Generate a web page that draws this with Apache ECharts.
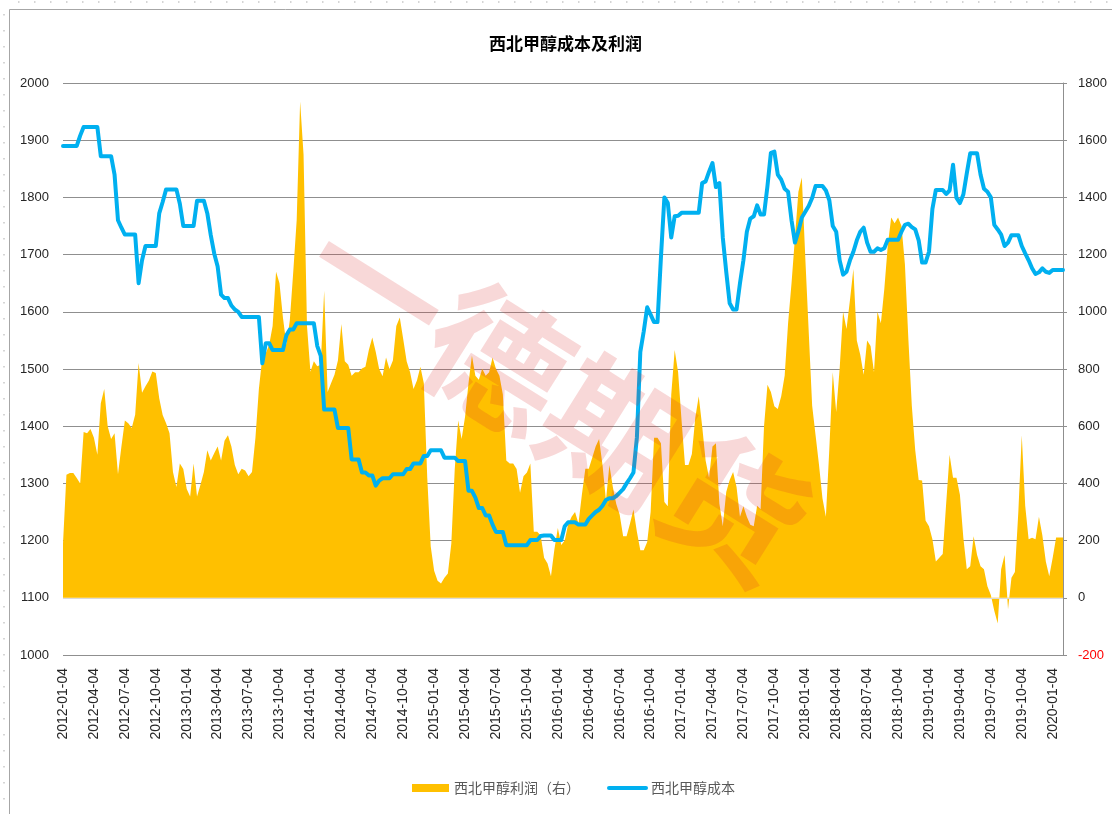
<!DOCTYPE html>
<html>
<head>
<meta charset="utf-8">
<script src="https://cdn.jsdelivr.net/npm/echarts@6/dist/echarts.min.js"></script>
<style>
  html, body { margin: 0; padding: 0; background: #fff; }
  #chart { width: 1112px; height: 814px; }
</style>
</head>
<body>
<div id="chart"></div>
<script>
// points on the 4th, 14th and 24th of every month, 2012-01-04 .. 2020-02-04
const dates = [];
for (let y = 2012; y <= 2020; y++) {
  for (let m = 1; m <= 12; m++) {
    for (const d of [4, 14, 24]) {
      if (y === 2020 && (m > 2 || (m === 2 && d > 4))) continue;
      dates.push(y + '-' + String(m).padStart(2, '0') + '-' + String(d).padStart(2, '0'));
    }
  }
}

// 西北甲醇成本 (left axis), one row per quarter
const costValues = [
  1890,1890,1890,1890,1890,1908,1923,1923,1923,
  1923,1923,1872,1872,1872,1872,1840,1760,1747,
  1735,1735,1735,1735,1650,1690,1715,1715,1715,
  1715,1772,1792,1814,1814,1814,1814,1789,1750,
  1750,1750,1750,1794,1794,1794,1772,1734,1702,
  1679,1630,1624,1624,1611,1604,1600,1591,1591,
  1591,1591,1591,1591,1510,1545,1545,1533,1533,
  1533,1533,1559,1569,1569,1580,1580,1580,1580,
  1580,1580,1540,1523,1429,1429,1429,1429,1397,
  1397,1397,1397,1342,1342,1342,1319,1319,1314,
  1314,1296,1305,1309,1309,1309,1316,1316,1316,
  1316,1325,1325,1335,1335,1335,1348,1348,1358,
  1358,1358,1358,1345,1345,1345,1345,1339,1339,
  1339,1287,1287,1275,1257,1257,1244,1244,1228,
  1215,1215,1215,1192,1192,1192,1192,1192,1192,
  1192,1201,1201,1201,1208,1209,1209,1209,1201,
  1201,1201,1225,1232,1232,1232,1228,1228,1228,
  1238,1244,1250,1254,1261,1271,1274,1274,1278,
  1284,1290,1300,1309,1319,1380,1530,1566,1608,
  1595,1582,1582,1695,1800,1790,1730,1767,1768,
  1773,1773,1773,1773,1773,1773,1825,1828,1845,
  1860,1818,1825,1730,1670,1615,1604,1604,1650,
  1690,1740,1763,1767,1786,1770,1770,1820,1878,
  1880,1840,1831,1815,1810,1760,1721,1741,1765,
  1775,1785,1799,1820,1820,1820,1812,1795,1750,
  1740,1690,1665,1670,1690,1705,1725,1740,1747,
  1721,1705,1705,1711,1708,1711,1726,1726,1726,
  1726,1740,1752,1754,1748,1744,1725,1686,1686,
  1705,1780,1813,1813,1813,1806,1812,1857,1799,
  1790,1805,1842,1877,1877,1877,1840,1815,1810,
  1800,1752,1744,1735,1715,1721,1734,1734,1734,
  1715,1702,1690,1676,1666,1669,1676,1670,1668,
  1673,1673,1673,1673
];

// 西北甲醇利润 (right axis), one row per quarter
const profitValues = [
  190,430,436,436,419,400,580,575,590,
  560,500,680,730,600,555,575,432,529,
  620,610,594,640,821,717,740,760,791,
  786,698,639,610,575,440,387,470,450,
  380,354,470,354,395,440,516,480,505,
  529,480,549,568,529,464,432,451,445,
  425,440,560,730,840,855,885,950,1140,
  1100,980,885,970,1139,1320,1735,1550,950,
  790,827,810,815,1074,720,750,780,830,
  957,827,815,776,789,789,802,808,866,
  910,860,800,775,840,800,830,950,980,
  905,827,789,730,760,808,750,420,180,
  95,60,50,70,85,190,450,620,555,
  633,750,847,776,762,801,776,789,840,
  800,776,711,480,470,470,450,367,425,
  438,470,231,231,218,140,120,75,170,
  244,185,200,257,283,300,260,361,451,
  451,490,529,555,464,340,464,387,328,
  290,215,215,260,309,231,166,166,195,
  300,560,560,540,335,320,711,866,789,
  620,464,464,503,630,705,600,480,420,
  529,540,330,250,370,412,440,387,283,
  320,283,255,250,322,310,600,745,720,
  670,660,705,776,960,1100,1260,1420,1470,
  1191,931,672,568,464,348,283,520,789,
  650,800,1000,940,1040,1150,900,850,780,
  900,880,789,1000,960,1080,1230,1330,1310,
  1330,1300,1165,905,672,516,412,410,270,
  250,205,127,140,153,330,500,420,420,
  360,210,100,110,215,150,110,100,40,
  10,-45,-90,100,150,-40,70,90,300,
  568,322,205,210,205,283,218,127,75,
  140,211,211,211
];

const costTicks = { min: 1000, max: 2000, step: 100 };
const profitTicks = { min: -200, max: 1800, step: 200 };

const costName = '西北甲醇成本';
const profitName = '西北甲醇利润（右）';

const labelFont = 'Liberation Sans, Arial, sans-serif';
const cjkFont = 'Noto Sans CJK SC, sans-serif';
const gridColor = '#8f8f8f';

const chart = echarts.init(document.getElementById('chart'));

chart.setOption({
  animation: false,
  backgroundColor: '#fff',
  title: {
    text: '西北甲醇成本及利润',
    left: 484,
    top: 30,
    textStyle: { fontFamily: cjkFont, fontSize: 17, fontWeight: 'bold', color: '#000' }
  },
  legend: {
    left: 407,
    top: 776,
    itemWidth: 37,
    itemHeight: 8,
    itemGap: 27,
    textStyle: { fontFamily: cjkFont, fontSize: 14, color: '#595959' },
    data: [
      { name: profitName, icon: 'rect' },
      { name: costName, itemStyle: { opacity: 0 }, lineStyle: { width: 4, cap: 'round' } }
    ]
  },
  grid: { left: 63, right: 49, top: 83, bottom: 159 },
  xAxis: {
    type: 'category',
    data: dates,
    boundaryGap: false,
    axisLine: { show: false },
    axisTick: { show: false },
    splitLine: { show: false },
    axisLabel: {
      rotate: 90,
      margin: 13,
      fontFamily: labelFont,
      fontSize: 14,
      color: '#262626',
      interval: (idx, val) => /-(01|04|07|10)-04$/.test(val)
    }
  },
  yAxis: [
    {
      type: 'value',
      min: costTicks.min,
      max: costTicks.max,
      interval: costTicks.step,
      axisLine: { show: false },
      axisTick: { show: false },
      axisLabel: {
        margin: 14,
        fontFamily: labelFont,
        fontSize: 13,
        color: '#262626',
        formatter: v => String(v)
      },
      splitLine: { lineStyle: { color: gridColor, width: 1 } }
    },
    {
      type: 'value',
      position: 'right',
      min: profitTicks.min,
      max: profitTicks.max,
      interval: profitTicks.step,
      axisLine: { show: true, lineStyle: { color: gridColor, width: 1 } },
      axisTick: { show: true, length: 4, lineStyle: { color: gridColor } },
      splitLine: { show: false },
      axisLabel: {
        margin: 15,
        fontFamily: labelFont,
        fontSize: 13,
        color: '#262626',
        formatter: v => (v < 0 ? '{neg|' + v + '}' : String(v)),
        rich: { neg: { color: '#ff0000', fontFamily: labelFont, fontSize: 13 } }
      }
    }
  ],
  series: [
    {
      name: profitName,
      type: 'line',
      yAxisIndex: 1,
      data: profitValues,
      symbol: 'none',
      itemStyle: { color: '#FFC000' },
      lineStyle: { width: 0, color: '#FFC000' },
      areaStyle: { color: '#FFC000', opacity: 1 },
      markLine: {
        silent: true,
        symbol: 'none',
        label: { show: false },
        lineStyle: { color: '#d9d9d9', width: 1, type: 'solid' },
        data: [{ yAxis: 0 }]
      },
      z: 2
    },
    {
      name: costName,
      type: 'line',
      yAxisIndex: 0,
      data: costValues,
      symbol: 'none',
      itemStyle: { color: '#00B0F0' },
      lineStyle: { width: 4, color: '#00B0F0', cap: 'round', join: 'round' },
      z: 3
    }
  ],
  graphic: [
    {
      type: 'rect',
      silent: true,
      z: 0,
      shape: { x: 9.5, y: 9.5, width: 1120, height: 820 },
      style: { fill: 'none', stroke: '#a6a6a6', lineWidth: 1 }
    },
    {
      type: 'line',
      silent: true,
      shape: { x1: 4, y1: 14, x2: 4, y2: 814 },
      style: { stroke: '#c8c8c8', lineWidth: 1.5, lineDash: [1.5, 14.5] }
    },
    {
      type: 'line',
      silent: true,
      shape: { x1: 18, y1: 2, x2: 1112, y2: 2 },
      style: { stroke: '#c8c8c8', lineWidth: 1.5, lineDash: [1.5, 14.5] }
    },
    {
      type: 'text',
      silent: true,
      z: 100,
      x: 556,
      y: 396,
      rotation: -0.56,
      style: {
        text: '一德期货',
        font: 'bold 140px "Noto Sans CJK SC"',
        fill: 'rgba(215, 40, 40, 0.18)',
        align: 'center',
        verticalAlign: 'middle'
      }
    }
  ]
});
</script>
</body>
</html>
